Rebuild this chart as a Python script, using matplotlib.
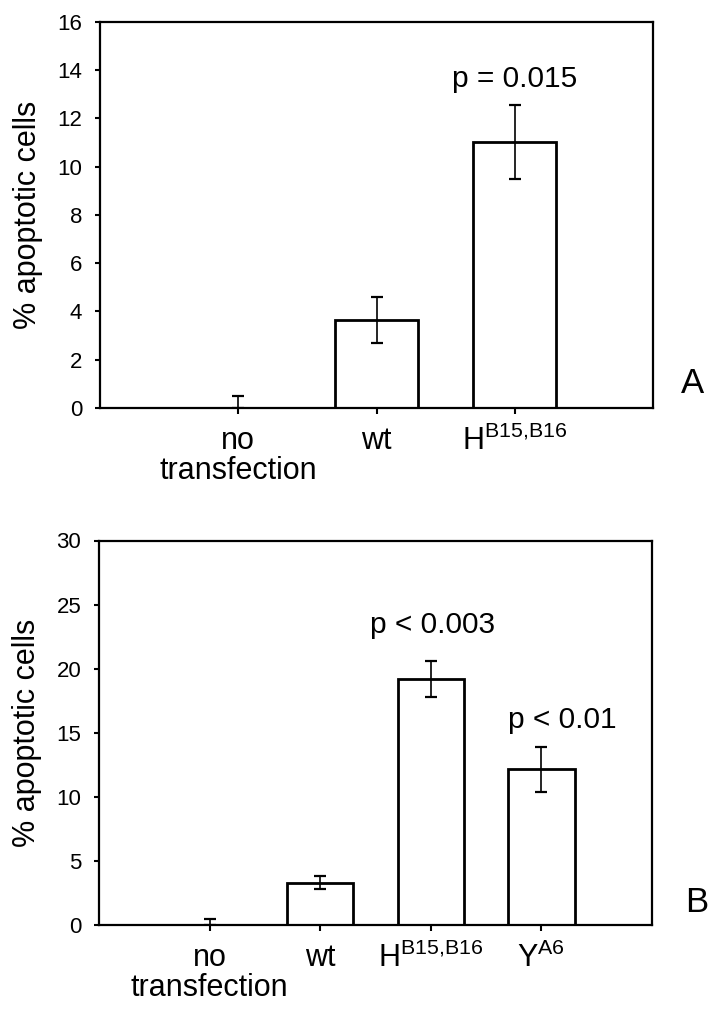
import matplotlib
matplotlib.use("Agg")
import matplotlib.pyplot as plt

plt.rcParams['font.family'] = ['Liberation Sans', 'DejaVu Sans']
plt.rcParams['mathtext.default'] = 'regular'

# Panel A data
cats_a = ['no\ntransfection', 'wt', r'H$^{B15{,}B16}$']
vals_a = [0.0, 3.65, 11.0]
err_lo_a = [0.0, 0.96, 1.53]
err_hi_a = [0.5, 0.96, 1.53]
ann_a = ['', '', 'p = 0.015']
ann_y_a = [None, None, 13.3]
ann_dx_a = [0, 0, 0.0]

# Panel B data
cats_b = ['no\ntransfection', 'wt', r'H$^{B15{,}B16}$', r'Y$^{A6}$']
vals_b = [0.0, 3.3, 19.2, 12.15]
err_lo_b = [0.0, 0.52, 1.42, 1.75]
err_hi_b = [0.5, 0.52, 1.42, 1.75]
ann_b = ['', '', 'p < 0.003', 'p < 0.01']
ann_y_b = [None, None, 22.8, 15.4]
ann_dx_b = [0, 0, 0.02, 0.19]

ylabel = '% apoptotic cells'

W, H = 711, 1016
fig = plt.figure(figsize=(W / 100, H / 100), dpi=100)

def panel(rect, cats, vals, lo, hi, ann, ann_y, ann_dx, ymax, ystep, letter, letter_xy):
    ax = fig.add_axes(rect)
    x = list(range(1, len(cats) + 1))
    ax.bar(x, vals, width=0.6, color='white', edgecolor='black', linewidth=2.0, zorder=2)
    ax.errorbar(x, vals, yerr=[lo, hi], fmt='none', ecolor='black',
                elinewidth=1.2, capsize=4, capthick=1.6, zorder=3)
    ax.set_xlim(0, len(cats) + 1)
    ax.set_ylim(0, ymax)
    ax.set_yticks(list(range(0, ymax + 1, ystep)))
    ax.set_xticks(x, cats)
    for sp in ax.spines.values():
        sp.set_linewidth(1.6)
    ax.tick_params(axis='y', direction='out', length=3.8, width=1.5, labelsize=16, pad=9)
    ax.tick_params(axis='x', direction='out', length=4.5, width=1.5, labelsize=22, pad=8.5)
    for t in ax.get_xticklabels():
        t.set_linespacing(1.0)
    ax.set_ylabel(ylabel, fontsize=22)
    ax.yaxis.set_label_coords(-0.103, 0.5)
    for xi, txt, ty, dx in zip(x, ann, ann_y, ann_dx):
        if txt:
            ax.text(xi + dx, ty, txt, ha='center', va='baseline', fontsize=21.5)
    fig.text(letter_xy[0], letter_xy[1], letter, fontsize=25, ha='left', va='baseline')
    return ax

panel([100 / W, 1 - 408 / H, 553 / W, 386.3 / H], cats_a, vals_a, err_lo_a, err_hi_a,
      ann_a, ann_y_a, ann_dx_a, 16, 2, 'A', (681 / W, 1 - 393 / H))
panel([99 / W, 1 - 925 / H, 553 / W, 384.5 / H], cats_b, vals_b, err_lo_b, err_hi_b,
      ann_b, ann_y_b, ann_dx_b, 30, 5, 'B', (685 / W, 1 - 912 / H))

fig.savefig('out.png', dpi=100, facecolor='white')
